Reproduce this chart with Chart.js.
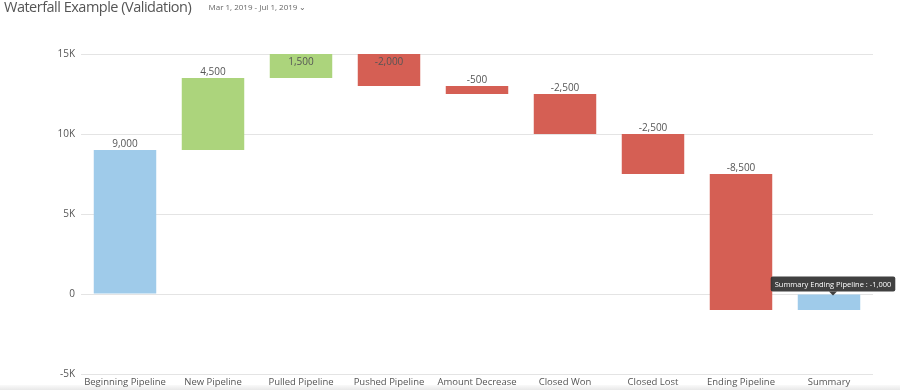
<!DOCTYPE html>
<html>
<head>
<meta charset="utf-8">
<script src="https://cdn.jsdelivr.net/npm/chart.js@4"></script>
<style>
  html, body { margin: 0; padding: 0; background: #fff; }
  #wrap { position: relative; width: 900px; height: 390px; overflow: hidden; }
  #title { position: absolute; left: 4px; top: -3px; font-family: "Open Sans", sans-serif; font-size: 14.5px; letter-spacing: -0.5px; color: #555; white-space: nowrap; }
  #range { font-size: 8px; letter-spacing: 0; color: #666; margin-left: 14px; vertical-align: 2px; }
  #strip { position: absolute; left: 0; bottom: 0; width: 900px; height: 5px; background: linear-gradient(#fafafa, #e8e8e8); }
  canvas { position: absolute; left: 0; top: 0; }
</style>
</head>
<body>
<div id="wrap">
  <div id="strip"></div>
  <canvas id="chart" width="900" height="390"></canvas>
  <div id="title">Waterfall Example (Validation) <span id="range">Mar 1, 2019 - Jul 1, 2019 &#8964;</span></div>
</div>
<script>
const categories = ['Beginning Pipeline', 'New Pipeline', 'Pulled Pipeline', 'Pushed Pipeline',
  'Amount Decrease', 'Closed Won', 'Closed Lost', 'Ending Pipeline', 'Summary'];
const deltas = [9000, 4500, 1500, -2000, -500, -2500, -2500, -8500, -1000];
const isTotal = [true, false, false, false, false, false, false, false, true];
const yTicks = [-5000, 0, 5000, 10000, 15000];

const BLUE = '#9fcbea';
const GREEN = '#acd47c';
const RED = '#d55f54';

// floating ranges for each bar
let running = 0;
const ranges = deltas.map((d, i) => {
  if (isTotal[i]) {
    running = (i === 0) ? d : running;
    return [0, d];
  }
  const start = running;
  running += d;
  return [start, running];
});
const colors = deltas.map((d, i) => isTotal[i] ? BLUE : (d >= 0 ? GREEN : RED));
const fmt = v => v.toLocaleString('en-US');

const labelPlugin = {
  id: 'barLabels',
  afterDatasetsDraw(chart) {
    const ctx = chart.ctx;
    const meta = chart.getDatasetMeta(0);
    const area = chart.chartArea;
    ctx.save();
    ctx.textAlign = 'center';
    meta.data.forEach((bar, i) => {
      const top = Math.min(bar.y, bar.base);
      if (i === meta.data.length - 1) {
        // tooltip for the summary bar
        const text = 'Summary Ending Pipeline : ' + fmt(deltas[i]);
        ctx.font = '7.5px "Open Sans", sans-serif';
        const w = ctx.measureText(text).width + 8;
        const h = 15;
        const cx = bar.x + 4;
        const bx = cx - w / 2;
        const by = top - 3 - h;
        ctx.fillStyle = 'rgba(48,48,48,0.92)';
        ctx.beginPath();
        ctx.roundRect(bx, by, w, h, 2);
        ctx.fill();
        ctx.beginPath();
        ctx.moveTo(cx - 4, by + h);
        ctx.lineTo(cx + 4, by + h);
        ctx.lineTo(cx, by + h + 4);
        ctx.fill();
        ctx.fillStyle = '#fff';
        ctx.textBaseline = 'middle';
        ctx.fillText(text, cx, by + h / 2 + 0.5);
        return;
      }
      ctx.font = '10px "Open Sans", sans-serif';
      ctx.textBaseline = 'bottom';
      const y = Math.max(top - 1, area.top + 13);
      ctx.fillStyle = '#555';
      ctx.fillText(fmt(deltas[i]), bar.x, y);
    });
    ctx.restore();
  }
};

new Chart(document.getElementById('chart'), {
  type: 'bar',
  data: {
    labels: categories,
    datasets: [{
      data: ranges,
      backgroundColor: colors,
      borderWidth: 0,
      borderSkipped: false,
      categoryPercentage: 1,
      barPercentage: 0.71
    }]
  },
  options: {
    responsive: false,
    animation: false,
    layout: { padding: { top: 54, right: 27, bottom: 0, left: 0 } },
    plugins: { legend: { display: false }, tooltip: { enabled: false } },
    scales: {
      x: {
        afterFit(scale) { scale.height = 16; },
        grid: { display: false, drawTicks: false },
        border: { display: false },
        ticks: { color: '#555', font: { family: 'Open Sans', size: 9.5 }, padding: 3, maxRotation: 0, autoSkip: false }
      },
      y: {
        min: -5000,
        max: 15000,
        afterFit(scale) { scale.width = 81; },
        afterBuildTicks(scale) { scale.ticks = yTicks.map(v => ({ value: v })); },
        grid: { color: '#e4e4e4', lineWidth: 1, drawTicks: false },
        border: { display: false },
        ticks: {
          color: '#555',
          font: { family: 'Open Sans', size: 10 },
          padding: 6,
          callback: v => v === 0 ? '0' : (v / 1000) + 'K'
        }
      }
    }
  },
  plugins: [labelPlugin]
});
</script>
</body>
</html>
